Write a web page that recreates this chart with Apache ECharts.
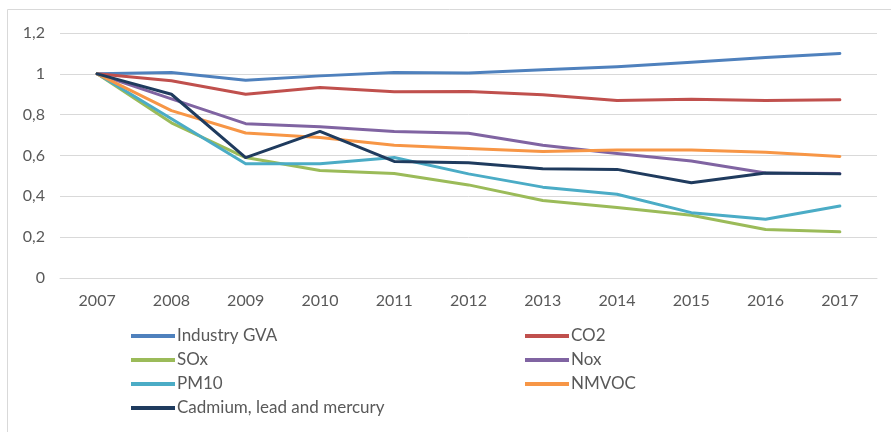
<!DOCTYPE html>
<html>
<head>
<meta charset="utf-8">
<script src="https://cdn.jsdelivr.net/npm/echarts@6/dist/echarts.min.js"></script>
<style>
html, body { margin: 0; padding: 0; background: #fff; }
#chart { width: 891px; height: 432px; }
</style>
</head>
<body>
<div id="chart"></div>
<script>
// years on the x axis
var years = ['2007', '2008', '2009', '2010', '2011', '2012', '2013', '2014', '2015', '2016', '2017'];

// index values, 2007 = 1
var industryGva = [1, 1.006, 0.968, 0.99, 1.006, 1.004, 1.02, 1.035, 1.057, 1.08, 1.1];
var co2 = [1, 0.966, 0.9, 0.933, 0.912, 0.913, 0.897, 0.869, 0.875, 0.869, 0.873];
var sox = [1, 0.76, 0.59, 0.527, 0.512, 0.456, 0.38, 0.345, 0.307, 0.238, 0.226];
var nox = [1, 0.877, 0.756, 0.741, 0.718, 0.709, 0.65, 0.61, 0.573, 0.514, 0.512];
var pm10 = [1, 0.78, 0.56, 0.56, 0.59, 0.51, 0.445, 0.41, 0.32, 0.288, 0.353];
var nmvoc = [1, 0.82, 0.71, 0.688, 0.65, 0.634, 0.62, 0.627, 0.627, 0.616, 0.595];
var cadmium = [1, 0.9, 0.59, 0.718, 0.571, 0.564, 0.535, 0.532, 0.467, 0.514, 0.51];

var names = ['Industry GVA', 'CO2', 'SOx', 'Nox', 'PM10', 'NMVOC', 'Cadmium, lead and mercury'];
var colors = ['#4f81bd', '#c0504d', '#9bbb59', '#8064a2', '#4bacc6', '#f79646', '#1f3b5e'];
var values = [industryGva, co2, sox, nox, pm10, nmvoc, cadmium];

var font = 'Lato';
var textColor = '#595959';

function makeSeries(i) {
    return {
        name: names[i],
        type: 'line',
        data: values[i],
        symbol: 'none',
        lineStyle: { width: 3, color: colors[i], join: 'round', cap: 'round' },
        itemStyle: { color: colors[i] }
    };
}

var legendBase = {
    orient: 'vertical',
    top: 326,
    padding: 0,
    icon: 'rect',
    itemWidth: 44,
    itemHeight: 4,
    itemGap: 4,
    textStyle: { color: textColor, fontFamily: font, fontSize: 17, lineHeight: 20, padding: [0, 0, 0, -3] }
};

var chart = echarts.init(document.getElementById('chart'));
var option = {
    animation: false,
    color: colors,
    graphic: [{
        type: 'rect',
        shape: { x: 7.5, y: 9.5, width: 1000, height: 1000 },
        style: { fill: 'none', stroke: '#d9d9d9', lineWidth: 1 },
        silent: true
    }],
    grid: { left: 60, right: 14, top: 33, bottom: 154 },
    legend: [
        Object.assign({}, legendBase, { left: 131, data: [names[0], names[2], names[4], names[6]] }),
        Object.assign({}, legendBase, { left: 525, data: [names[1], names[3], names[5]] })
    ],
    xAxis: {
        type: 'category',
        boundaryGap: true,
        data: years,
        axisTick: { show: false },
        axisLine: { lineStyle: { color: '#d9d9d9' } },
        axisLabel: { color: textColor, fontFamily: font, fontSize: 16, margin: 15 }
    },
    yAxis: {
        type: 'value',
        min: 0,
        max: 1.2,
        interval: 0.2,
        axisLine: { show: false },
        axisTick: { show: false },
        splitLine: { lineStyle: { color: '#d9d9d9' } },
        axisLabel: {
            color: textColor, fontFamily: font, fontSize: 16, margin: 15,
            formatter: function (v) { return String(Math.round(v * 10) / 10).replace('.', ','); }
        }
    },
    series: values.map(function (v, i) { return makeSeries(i); })
};
chart.setOption(option);
</script>
</body>
</html>
